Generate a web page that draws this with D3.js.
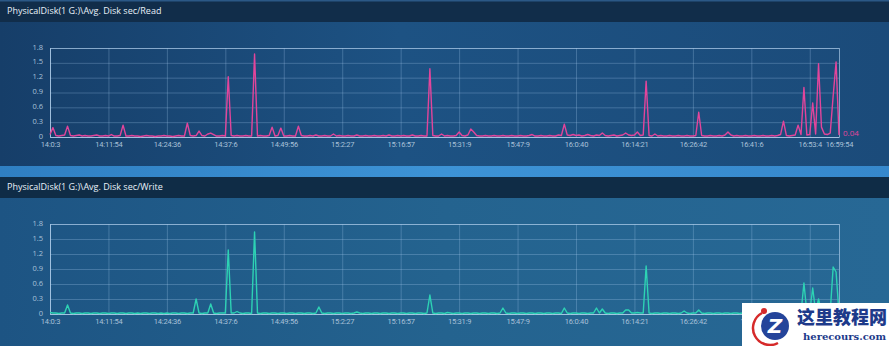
<!DOCTYPE html>
<html>
<head>
<meta charset="utf-8">
<script src="https://cdn.jsdelivr.net/npm/d3@7/dist/d3.min.js"></script>
<style>
  body { margin: 0; background: #1b4876; }
  svg { display: block; }
</style>
</head>
<body>
<div id="chart"></div>
<script>
// sample index of each x tick label, and its text
var tickIdx = [0, 20, 40, 60, 80, 100, 120, 140, 160, 180, 200, 220, 240, 260, 270];
var tickLabels = ["14:0:3", "14:11:54", "14:24:36", "14:37:6", "14:49:56", "15:2:27", "15:16:57",
  "15:31:9", "15:47:9", "16:0:40", "16:14:21", "16:26:42", "16:41:6", "16:53:4", "16:59:54"];
var yTicks = [0, 0.3, 0.6, 0.9, 1.2, 1.5, 1.8];

// Avg. Disk sec/Read, one value per sample (271 samples)
var readValues = [
  0.05,0.19,0.03,0.02,0.03,0.04,0.22,0.03,0.02,0.03,0.04,0.02,0.03,0.02,0.02,0.03,0.04,0.02,0.02,0.03,
  0.02,0.05,0.02,0.02,0.03,0.24,0.02,0.02,0.03,0.02,0.02,0.01,0.02,0.03,0.02,0.02,0.01,0.02,0.02,0.03,
  0.02,0.02,0.01,0.02,0.03,0.02,0.02,0.28,0.03,0.02,0.03,0.12,0.03,0.02,0.06,0.08,0.05,0.02,0.02,0.03,
  0.02,1.22,0.03,0.02,0.03,0.02,0.02,0.03,0.02,0.02,1.68,0.02,0.03,0.02,0.02,0.03,0.20,0.02,0.03,0.18,
  0.02,0.02,0.03,0.02,0.02,0.22,0.03,0.02,0.02,0.03,0.02,0.04,0.02,0.02,0.03,0.02,0.02,0.06,0.02,0.03,
  0.02,0.02,0.03,0.02,0.02,0.04,0.02,0.02,0.03,0.02,0.02,0.03,0.02,0.02,0.03,0.02,0.04,0.02,0.02,0.03,
  0.02,0.03,0.02,0.02,0.04,0.02,0.02,0.03,0.02,0.02,1.38,0.03,0.02,0.02,0.06,0.02,0.03,0.02,0.02,0.03,
  0.10,0.03,0.02,0.04,0.16,0.10,0.03,0.02,0.02,0.03,0.02,0.02,0.03,0.02,0.02,0.03,0.02,0.02,0.03,0.02,
  0.02,0.03,0.02,0.02,0.03,0.05,0.02,0.02,0.03,0.02,0.02,0.03,0.02,0.02,0.04,0.03,0.26,0.04,0.03,0.05,
  0.03,0.04,0.02,0.03,0.05,0.03,0.02,0.04,0.03,0.08,0.03,0.02,0.03,0.04,0.02,0.03,0.04,0.08,0.04,0.03,
  0.04,0.10,0.03,0.04,1.13,0.03,0.02,0.06,0.02,0.03,0.02,0.02,0.03,0.02,0.02,0.03,0.02,0.02,0.03,0.02,
  0.02,0.03,0.50,0.03,0.02,0.02,0.03,0.02,0.02,0.03,0.02,0.04,0.10,0.04,0.02,0.03,0.02,0.02,0.03,0.02,
  0.02,0.03,0.02,0.02,0.03,0.02,0.02,0.03,0.02,0.03,0.05,0.32,0.03,0.02,0.03,0.04,0.24,0.05,1.00,0.04,
  0.05,0.69,0.06,1.48,0.20,0.06,0.05,0.08,0.83,1.52,0.04
];

// Avg. Disk sec/Write, same samples
var writeValues = [
  0.03,0.02,0.02,0.01,0.02,0.02,0.18,0.02,0.01,0.02,0.02,0.01,0.02,0.02,0.01,0.02,0.02,0.01,0.02,0.02,
  0.01,0.02,0.02,0.01,0.02,0.02,0.01,0.02,0.02,0.01,0.02,0.01,0.02,0.02,0.01,0.02,0.02,0.01,0.02,0.01,
  0.02,0.01,0.02,0.02,0.01,0.02,0.02,0.01,0.02,0.02,0.30,0.02,0.01,0.02,0.02,0.20,0.02,0.01,0.02,0.02,
  0.02,1.28,0.02,0.02,0.05,0.02,0.01,0.02,0.02,0.01,1.64,0.02,0.01,0.02,0.02,0.01,0.02,0.02,0.01,0.02,
  0.02,0.01,0.02,0.02,0.01,0.02,0.02,0.01,0.02,0.02,0.01,0.02,0.14,0.02,0.01,0.02,0.02,0.01,0.02,0.02,
  0.01,0.02,0.02,0.01,0.02,0.04,0.02,0.01,0.02,0.02,0.01,0.02,0.02,0.01,0.02,0.02,0.01,0.02,0.02,0.01,
  0.02,0.02,0.01,0.02,0.02,0.01,0.02,0.02,0.01,0.02,0.38,0.02,0.01,0.02,0.02,0.01,0.03,0.02,0.01,0.02,
  0.02,0.01,0.02,0.02,0.01,0.02,0.02,0.01,0.02,0.02,0.01,0.02,0.02,0.01,0.02,0.12,0.02,0.01,0.02,0.02,
  0.01,0.02,0.02,0.01,0.02,0.02,0.01,0.02,0.02,0.01,0.02,0.02,0.01,0.02,0.02,0.01,0.12,0.02,0.01,0.02,
  0.02,0.01,0.02,0.02,0.01,0.02,0.02,0.12,0.02,0.10,0.02,0.01,0.02,0.02,0.01,0.02,0.02,0.08,0.08,0.02,
  0.02,0.03,0.02,0.02,0.96,0.02,0.01,0.02,0.02,0.01,0.02,0.02,0.01,0.02,0.02,0.01,0.02,0.06,0.02,0.01,
  0.02,0.02,0.08,0.02,0.01,0.02,0.02,0.01,0.02,0.02,0.01,0.02,0.02,0.01,0.02,0.02,0.01,0.02,0.02,0.01,
  0.02,0.02,0.01,0.02,0.02,0.01,0.02,0.02,0.01,0.02,0.02,0.01,0.02,0.02,0.01,0.02,0.03,0.02,0.62,0.03,
  0.03,0.52,0.04,0.30,0.03,0.02,0.03,0.04,0.94,0.84,0.02
];

var W = 889, H = 346;
var svg = d3.select("#chart").append("svg").attr("width", W).attr("height", H);
var defs = svg.append("defs");

function hGrad(id, stops) {
  var g = defs.append("linearGradient").attr("id", id).attr("x1", 0).attr("x2", 1).attr("y1", 0).attr("y2", 0);
  stops.forEach(function (s) { g.append("stop").attr("offset", s[0]).attr("stop-color", s[1]); });
}
hGrad("topPanel", [[0, "#163e69"], [0.45, "#1d5283"], [1, "#1b4b7a"]]);
hGrad("botPanel", [[0, "#1d5483"], [0.5, "#24638f"], [1, "#276895"]]);
hGrad("band", [[0, "#2f7fc2"], [0.5, "#3d93d6"], [1, "#3688cc"]]);

// panels
svg.append("rect").attr("width", W).attr("height", 166).attr("fill", "url(#topPanel)");
svg.append("rect").attr("width", W).attr("height", 22).attr("fill", "#112d4a");
svg.append("rect").attr("width", W).attr("height", 1.5).attr("fill", "#2b5886");
svg.append("rect").attr("y", 166).attr("width", W).attr("height", 11).attr("fill", "url(#band)");
svg.append("rect").attr("y", 177).attr("width", W).attr("height", 21).attr("fill", "#0f2c46");
svg.append("rect").attr("y", 198).attr("width", W).attr("height", H - 198).attr("fill", "url(#botPanel)");

var font = "'Open Sans', 'Noto Sans', sans-serif";

function drawChart(title, titleY, top, bottom, values, color, endLabel) {
  svg.append("text")
    .attr("x", 7).attr("y", titleY)
    .attr("fill", "#e8f0f8")
    .style("font-family", font).style("font-size", "9px")
    .text(title);

  var x = d3.scaleLinear().domain([0, values.length - 1]).range([50, 839]);
  var y = d3.scaleLinear().domain([0, 1.8]).range([bottom, top]);
  var g = svg.append("g");

  // horizontal grid + y labels
  var yAxis = d3.axisLeft(y).tickValues(yTicks).tickSize(-(839 - 50)).tickPadding(7)
    .tickFormat(function (d) { return d === 0 ? "0" : d3.format(".1f")(d); });
  var ya = g.append("g").attr("transform", "translate(50,0)").call(yAxis);
  ya.select(".domain").attr("stroke", "rgba(190,215,240,0.6)");
  ya.selectAll(".tick line").attr("stroke", "rgba(170,205,240,0.28)");
  ya.selectAll(".tick text").attr("fill", "#a9c1d9").attr("dy", "0.15em")
    .style("font-family", font).style("font-size", "7.5px");

  // vertical grid + x labels
  var xAxis = d3.axisBottom(x).tickValues(tickIdx).tickSize(-(bottom - top)).tickPadding(5)
    .tickFormat(function (d, i) { return tickLabels[i]; });
  var xa = g.append("g").attr("transform", "translate(0," + bottom + ")").call(xAxis);
  xa.select(".domain").attr("stroke", "rgba(190,215,240,0.5)");
  xa.selectAll(".tick line").attr("stroke", "rgba(170,205,240,0.28)");
  xa.selectAll(".tick text").attr("fill", "#a9c1d9")
    .style("font-family", "Roboto, sans-serif").style("font-size", "7.5px")
    .style("letter-spacing", "-0.2px");

  var line = d3.line().x(function (d, i) { return x(i); }).y(function (d) { return y(d); });
  g.append("path").datum(values)
    .attr("d", line)
    .attr("fill", "none")
    .attr("stroke", color)
    .attr("stroke-width", 1.4)
    .attr("stroke-linejoin", "round");

  if (endLabel) {
    var last = values[values.length - 1];
    g.append("text")
      .attr("x", x(values.length - 1) + 4).attr("y", y(last) + 1)
      .attr("fill", color)
      .style("font-family", font).style("font-size", "8px")
      .text(d3.format(".2f")(last));
  }
}

drawChart("PhysicalDisk(1 G:)\\Avg. Disk sec/Read", 14, 48, 137, readValues, "#e2459b", true);
drawChart("PhysicalDisk(1 G:)\\Avg. Disk sec/Write", 190, 224, 314, writeValues, "#2dd2b4", false);

// site watermark in the corner
var wm = svg.append("g");
wm.append("rect").attr("x", 742).attr("y", 303).attr("width", 147).attr("height", 43).attr("fill", "#ffffff");
wm.append("path").attr("d", "M 762 313 A 17 17 0 0 0 778 343").attr("fill", "none")
  .attr("stroke", "#d62a2a").attr("stroke-width", 2.5);
wm.append("circle").attr("cx", 764).attr("cy", 311).attr("r", 3).attr("fill", "#d62a2a");
wm.append("circle").attr("cx", 775).attr("cy", 326).attr("r", 14).attr("fill", "#24449a");
wm.append("text").attr("x", 775).attr("y", 333).attr("text-anchor", "middle")
  .attr("fill", "#ffffff").style("font-family", "'DejaVu Sans'").style("font-weight", "bold")
  .style("font-style", "italic").style("font-size", "20px").text("Z");
wm.append("text").attr("x", 797).attr("y", 324).attr("fill", "#1d3a8a")
  .style("font-family", "'Noto Sans CJK SC'").style("font-weight", "900").style("font-size", "18px")
  .text("这里教程网");
wm.append("text").attr("x", 803).attr("y", 340).attr("fill", "#1d3a8a")
  .style("font-family", "'DejaVu Serif'").style("font-weight", "bold").style("font-size", "10px")
  .text("herecours.com");
</script>
</body>
</html>
